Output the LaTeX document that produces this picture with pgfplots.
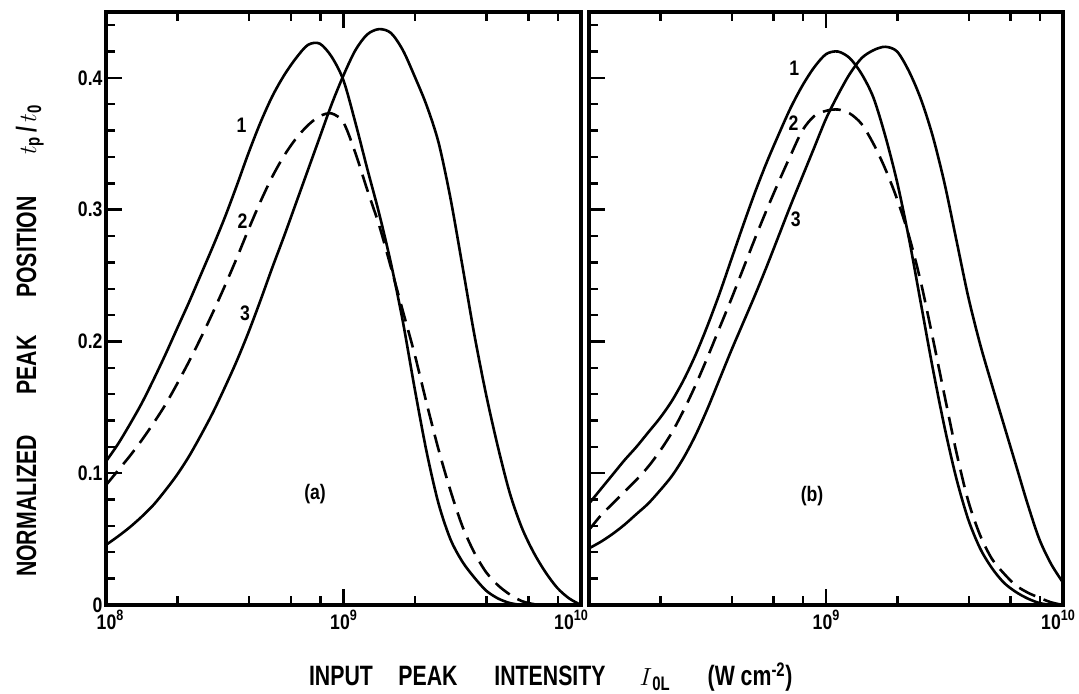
\documentclass[border=0pt]{standalone}
\usepackage{fontspec}
\setmainfont{Liberation Sans}[FakeStretch=0.84]
\newfontfamily\labfont{Liberation Sans}[FakeStretch=0.76]
\usepackage{pgfplots}
\usepackage{pgfplotstable}
\pgfplotsset{compat=1.18}
\newcommand\tl{\bfseries\fontsize{21bp}{23bp}\selectfont}
\newcommand\lbl{\labfont\bfseries\fontsize{28bp}{30bp}\selectfont}
\newcommand\pw[1]{10\raisebox{0.42em}{\fontsize{15bp}{15bp}\selectfont #1}}

\pgfplotstableread{
x        l1     l2     l3
1e8      0.109  0.091  0.0456
1.122e8  0.122  0.102  0.052
1.259e8  0.137  0.113  0.059
1.413e8  0.153  0.125  0.067
1.585e8  0.171  0.138  0.076
1.778e8  0.190  0.152  0.087
1.995e8  0.210  0.168  0.099
2.239e8  0.230  0.185  0.113
2.512e8  0.251  0.203  0.129
2.818e8  0.272  0.222  0.146
3.162e8  0.294  0.242  0.165
3.548e8  0.318  0.263  0.185
3.981e8  0.343  0.285  0.207
4.467e8  0.366  0.306  0.231
5.012e8  0.386  0.325  0.256
5.623e8  0.402  0.341  0.280
6.310e8  0.415  0.354  0.305
7.079e8  0.425  0.364  0.330
7.943e8  0.426  0.371  0.355
8.913e8  0.416  0.373  0.380
1e9      0.398  0.366  0.402
1.122e9  0.366  0.343  0.421
1.259e9  0.331  0.315  0.433
1.413e9  0.297  0.288  0.437
1.585e9  0.259  0.256  0.434
1.778e9  0.215  0.223  0.421
1.995e9  0.164  0.190  0.401
2.239e9  0.116  0.153  0.379
2.512e9  0.077  0.118  0.351
2.818e9  0.050  0.087  0.309
3.162e9  0.033  0.060  0.258
3.548e9  0.021  0.040  0.206
3.981e9  0.011  0.025  0.160
4.467e9  0.005  0.015  0.120
5.012e9  0.0015 0.008  0.085
5.623e9  0.0    0.003  0.059
6.310e9  nan    0.0007 0.040
7.079e9  nan    0.0    0.025
7.943e9  nan    nan    0.013
8.913e9  nan    nan    0.005
1e10     nan    nan    0.0
}\tblL

\pgfplotstableread{
x        r1     r2     r3
1e8      0.077  0.057  0.043
1.122e8  0.088  0.068  0.048
1.259e8  0.099  0.077  0.054
1.413e8  0.110  0.086  0.061
1.585e8  0.120  0.095  0.069
1.778e8  0.131  0.105  0.077
1.995e8  0.142  0.117  0.087
2.239e8  0.155  0.131  0.098
2.512e8  0.171  0.148  0.112
2.818e8  0.190  0.167  0.129
3.162e8  0.212  0.188  0.149
3.548e8  0.236  0.210  0.171
3.981e8  0.262  0.232  0.193
4.467e8  0.288  0.255  0.214
5.012e8  0.313  0.278  0.235
5.623e8  0.336  0.300  0.257
6.310e8  0.357  0.321  0.280
7.079e8  0.377  0.341  0.303
7.943e8  0.394  0.360  0.325
8.913e8  0.408  0.371  0.347
1e9      0.418  0.375  0.369
1.122e9  0.420  0.376  0.387
1.259e9  0.415  0.373  0.403
1.413e9  0.403  0.365  0.415
1.585e9  0.385  0.350  0.421
1.778e9  0.356  0.331  0.4236
1.995e9  0.321  0.308  0.420
2.239e9  0.278  0.280  0.405
2.512e9  0.229  0.245  0.384
2.818e9  0.180  0.203  0.356
3.162e9  0.135  0.159  0.320
3.548e9  0.096  0.116  0.277
3.981e9  0.065  0.079  0.234
4.467e9  0.043  0.053  0.198
5.012e9  0.028  0.035  0.167
5.623e9  0.017  0.024  0.137
6.310e9  0.010  0.015  0.107
7.079e9  0.005  0.0095 0.077
7.943e9  0.0015 0.0055 0.050
8.913e9  0.0    0.002  0.031
1e10     nan    0.0    0.017
}\tblR

\pgfplotsset{
  panel/.style={
    scale only axis, height=593bp,
    xmin=1e8, xmax=1e10, ymin=0, ymax=0.45,
    axis line style={line width=3.6bp},
    tick style={line width=2.4bp, black},
    major tick length=16bp, minor tick length=9bp,
    minor xtick={2e8,4e8,6e8,8e8,2e9,4e9,6e9,8e9},
    ytick={0,0.1,0.2,0.3,0.4},
    minor ytick={0.02,0.04,0.06,0.08,0.12,0.14,0.16,0.18,0.22,0.24,0.26,0.28,0.32,0.34,0.36,0.38,0.42,0.44},
    ytick pos=left, tick align=inside,
    tick label style={font=\tl},
    xticklabel style={yshift=-2bp},
    clip=true,
  },
  crv/.style={black, line width=2.6bp, smooth},
  dsh/.style={black, line width=2.6bp, smooth, dash pattern=on 18bp off 9bp},
}

\begin{document}
\begin{tikzpicture}
\path[use as bounding box] (0bp,0bp) rectangle (1079bp,694bp);

\begin{axis}[xmode=log, panel, at={(106bp,89bp)}, anchor=south west, width=475bp,
  xtick={1e8,1e9}, xticklabels={\hspace{8bp}\pw{8},\pw{9}},
  extra x ticks={1e10}, extra x tick labels={\pw{10}},
  extra x tick style={xticklabel style={xshift=-10bp}},
  yticklabels={0,0.1,0.2,0.3,0.4}]
\addplot[crv] table[x=x,y=l1]{\tblL};
\addplot[dsh] table[x=x,y=l2]{\tblL};
\addplot[crv] table[x=x,y=l3]{\tblL};
\node[font=\tl] at (axis cs:3.72e8,0.364) {1};
\node[font=\tl] at (axis cs:3.76e8,0.2915) {2};
\node[font=\tl] at (axis cs:3.85e8,0.221) {3};
\node[font=\tl] at (axis cs:7.59e8,0.084) {(a)};
\end{axis}

\begin{axis}[xmode=log, panel, at={(589bp,89bp)}, anchor=south west, width=474bp,
  xtick={1e9}, xticklabels={\pw{9}},
  extra x ticks={1e10}, extra x tick labels={\pw{10}},
  extra x tick style={xticklabel style={xshift=-5bp}},
  yticklabel=\empty]
\addplot[crv] table[x=x,y=r1]{\tblR};
\addplot[dsh] table[x=x,y=r2]{\tblR};
\addplot[crv] table[x=x,y=r3]{\tblR};
\node[font=\tl] at (axis cs:7.35e8,0.407) {1};
\node[font=\tl] at (axis cs:7.30e8,0.366) {2};
\node[font=\tl] at (axis cs:7.46e8,0.293) {3};
\node[font=\tl] at (axis cs:8.73e8,0.0827) {(b)};
\end{axis}

% y axis label, word by word
\node[rotate=90, anchor=base, font=\lbl] at (36bp,188bp) {NORMALIZED};
\node[rotate=90, anchor=base, font=\lbl] at (36bp,329bp) {PEAK};
\node[rotate=90, anchor=base, font=\lbl] at (36bp,447bp) {POSITION};
\node[rotate=90, anchor=base, font=\lbl] at (36bp,564bp) {$t$\textsubscript{p}\hspace{4bp}/\hspace{4bp}$t$\textsubscript{0}};
% x axis label, word by word
\node[anchor=base, font=\lbl] at (341bp,9bp) {INPUT};
\node[anchor=base, font=\lbl] at (428bp,9bp) {PEAK};
\node[anchor=base, font=\lbl] at (550bp,9bp) {INTENSITY};
\node[anchor=base, font=\lbl] at (655bp,9bp) {$I$\textsubscript{0L}};
\node[anchor=base, font=\lbl] at (750bp,9bp) {(W cm\textsuperscript{-2})};
\end{tikzpicture}
\end{document}
